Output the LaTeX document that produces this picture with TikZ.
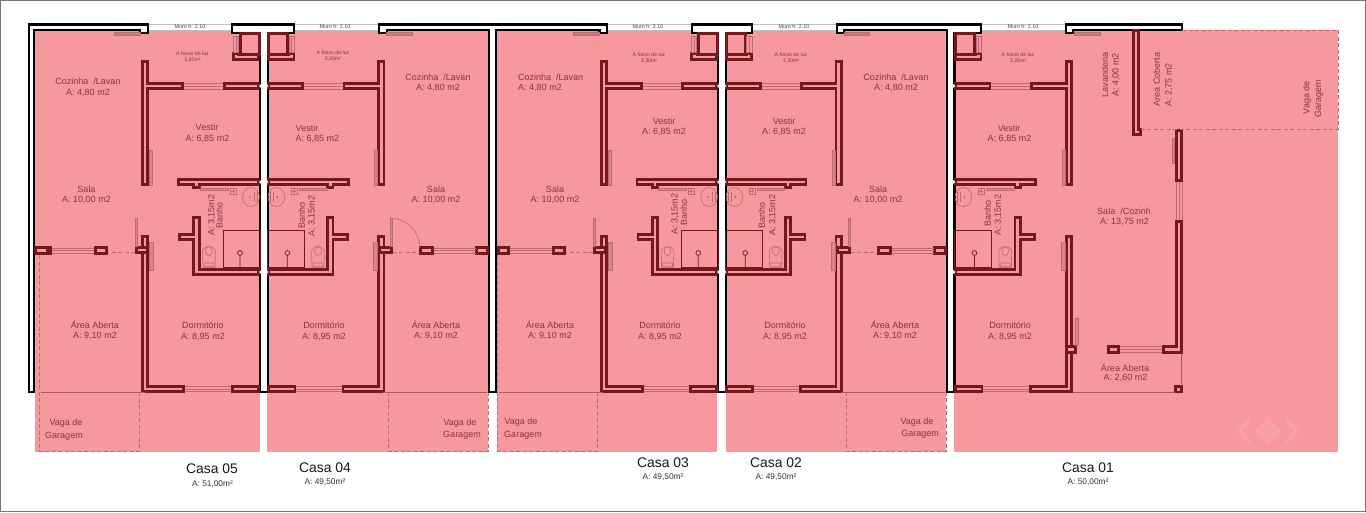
\documentclass[tikz,border=0pt]{standalone}
\usepackage{fontspec}
\setmainfont{Liberation Sans}
\usetikzlibrary{shapes}

\definecolor{planpink}{HTML}{F6989E}
\definecolor{wallred}{HTML}{741820}
\definecolor{labelred}{HTML}{8C3440}
\definecolor{thinred}{HTML}{BE6A72}

\tikzset{
  walldark/.style={draw=wallred,line width=8.2pt,line cap=rect,line join=miter},
  wallin/.style={draw=planpink,line width=2.6pt,line cap=rect,line join=miter},
  blackwall/.style={draw=black,fill=white,line width=2.3pt,line join=miter},
  thinline/.style={draw=wallred,line width=0.7pt},
  winline/.style={draw=thinred,line width=0.5pt},
  slab/.style={draw=thinred,fill=thinred!70!planpink,line width=0.3pt},
  fixture/.style={draw=thinred,line width=0.6pt},
  dashline/.style={draw=thinred,line width=0.6pt,dash pattern=on 4pt off 2.5pt},
  roomlabel/.style={inner sep=0pt,text=labelred,font=\fontsize{9}{10}\selectfont},
  fossolabel/.style={inner sep=0pt,text=labelred,font=\fontsize{5.2}{6}\selectfont},
  murolabel/.style={inner sep=0pt,text=black!75,font=\fontsize{5.4}{6}\selectfont},
  casalabel/.style={inner sep=0pt,text=black!90,font=\fontsize{13.9}{15}\selectfont},
  arealabel/.style={inner sep=0pt,text=black!80,font=\fontsize{8.3}{9}\selectfont},
}

\newcommand{\corewalls}{(115,64)--(115,182)
  (115,86)--(80,86) (4,86)--(33,86)
  (4,182)--(79,182) (63.5,182)--(63.5,185)
  (63.5,220)--(63.5,272)--(4,272) (63.5,237)--(78,237)
  (115,239)--(115,389)--(79,389) (4,389)--(25,389)
  (4,57)--(24,57) (24,57)--(24,56)}
\newcommand{\frontwalls}{(115,250)--(121,250) (156,250.5)--(162,250.5) (212,250.5)--(217,250.5)}

% the part of a house that repeats in all five
\newcommand{\casacore}[2]{%
\begin{scope}[shift={(#1,0)},xscale=#2]
\draw[walldark] \corewalls;
\draw[wallin] \corewalls;
\draw[draw=wallred,line width=3pt] (1,33.5) rectangle (20,54);
\draw[winline] (21.5,36) rectangle (27,52) (24,36)--(24,52);
\draw[winline] (37,83)--(76,83) (37,86)--(76,86) (37,89)--(76,89);
\draw[winline] (29,386.5)--(75,386.5) (29,389)--(75,389) (29,391.5)--(75,391.5);
\draw[slab] (120,32) rectangle (146,35);
\draw[slab,fill=thinred!45!planpink] (108,150) rectangle (111,185);
\draw[slab,fill=thinred!45!planpink] (107,242) rectangle (111,270);
\draw[slab,fill=thinred!45!planpink] (32,188) rectangle (60,190.5);
\draw[fixture] (24,188) rectangle (30,194) (27,189)--(27,193) (25,191)--(29,191);
\draw[fixture] (9,197) ellipse (8.5 and 9.5);
\draw[fixture] (3,192)--(3,202) (6,192)--(6,202);
\fill[wallred] (10,197) circle (0.7);
\draw[thinline] (0,230) rectangle (37,267.5);
\draw[thinline] (20,253) circle (2.4) (20,255.4)--(20,267.5);
\draw[fixture] (45,267)--(44.5,252) .. controls (44.5,245) and (57.5,245) .. (57.5,252) -- (57,267) -- cycle;
\draw[fixture] (51,251) ellipse (3.5 and 4.5) (46,263) rectangle (56,267);
\fill[white] (-1,86) circle (1.8) (-1,182) circle (1.8) (-1,272) circle (1.8);
\end{scope}}

% the open side, not in Casa 01
\newcommand{\casadash}[2]{%
\begin{scope}[shift={(#1,0)},xscale=#2]
\draw[dashline] (125,252)--(152,252);
\draw[dashline] (120.5,392)--(120.5,451)--(220.5,451)--(220.5,252)--(208,252);
\end{scope}}
\newcommand{\casafront}[2]{%
\begin{scope}[shift={(#1,0)},xscale=#2]
\draw[walldark] \frontwalls;
\draw[wallin] \frontwalls;
\draw[slab,fill=thinred!45!planpink] (123,218) rectangle (125,246);
\draw[winline] (166,248)--(208,248) (166,250.5)--(208,250.5) (166,253)--(208,253);
\draw[thinline,draw=thinred!80!wallred] (115,392)--(219,392);
\end{scope}}

\begin{document}
\begin{tikzpicture}[x=1pt,y=-1pt]
\useasboundingbox (0,0) rectangle (1366,512);
\draw[draw=black!55,fill=white,line width=1.5pt] (0.7,0.7) rectangle (1365.3,511.3);

% colour of the five lots
\fill[planpink] (35,30) rectangle (259.5,452);
\fill[planpink] (267,30) rectangle (488,452);
\fill[planpink] (497,30) rectangle (717,452);
\fill[planpink] (725.5,30) rectangle (946,452);
\fill[planpink] (954,30) rectangle (1338,452);

% dashed lots under the walls
\casadash{260}{-1}
\casadash{267.5}{1}
\casadash{718}{-1}
\casadash{725.5}{1}

% muro
\draw[draw=black!25,line width=0.8pt] (148,24) -- (232,24) (294,24) -- (379,24) (607,24) -- (692,24) (752,24) -- (837,24) (981,24) -- (1066,24);
\draw[draw=black!25,line width=0.6pt] (148,30) -- (232,30) (294,30) -- (379,30) (607,30) -- (692,30) (752,30) -- (837,30) (981,30) -- (1066,30);

% black outer line
\draw[blackwall] (29,392) -- (29,24.5) -- (148,24.5) -- (148,33) -- (140,33) -- (140,30) -- (34,30) -- (34,392) -- cycle;
\draw[blackwall] (232,24.5) -- (294,24.5) -- (294,33) -- (268,33) -- (268,392) -- (260,392) -- (260,33) -- (232,33) -- cycle;
\draw[blackwall] (379,33) -- (379,24.5) -- (607,24.5) -- (607,33) -- (599.5,33) -- (599.5,30) -- (496,30) -- (496,392) -- (489,392) -- (489,30) -- (387,30) -- (387,33) -- cycle;
\draw[blackwall] (692,24.5) -- (752,24.5) -- (752,33) -- (726,33) -- (726,392) -- (718,392) -- (718,33) -- (692,33) -- cycle;
\draw[blackwall] (837,33) -- (837,24.5) -- (981,24.5) -- (981,33) -- (954.5,33) -- (954.5,392) -- (947,392) -- (947,30) -- (844,30) -- (844,33) -- cycle;
\draw[blackwall] (1066,33) -- (1066,24.5) -- (1182,24.5) -- (1182,30) -- (1073,30) -- (1073,33) -- cycle;

\casacore{260}{-1}
\casacore{267.5}{0.99}
\casacore{718}{-0.99}
\casacore{725.5}{0.985}
\casacore{954.5}{0.995}
\casafront{260}{-1}
\casafront{267.5}{1}
\casafront{718}{-1}
\casafront{725.5}{1}

% Casa 05 reaches the outer wall
\draw[walldark] (38,250.5) -- (45,250.5);
\draw[wallin] (38,250.5) -- (45,250.5);

% door of Casa 04
\draw[fixture] (390,218) arc (-90:0:30);

% Casa 01, the part that is not repeated
\draw[walldark] (1136,33) -- (1136,132) -- (1137.5,132);
\draw[wallin] (1136,33) -- (1136,132) -- (1137.5,132);
\draw[walldark] (1179,133) -- (1179,178);
\draw[wallin] (1179,133) -- (1179,178);
\draw[walldark] (1179,224) -- (1179,349.5) -- (1166,349.5);
\draw[wallin] (1179,224) -- (1179,349.5) -- (1166,349.5);
\draw[walldark] (1111,349.5) -- (1116,349.5);
\draw[wallin] (1111,349.5) -- (1116,349.5);
\draw[walldark] (1069,349.5) -- (1073,349.5);
\draw[wallin] (1069,349.5) -- (1073,349.5);
\draw[draw=wallred,fill=planpink,line width=2.4pt] (1175.5,386.5) rectangle (1181.5,392);
\draw[winline] (1176,182) -- (1176,220) (1179,182) -- (1179,220) (1182,182) -- (1182,220);
\draw[winline] (1120,346.5) -- (1162,346.5) (1120,349.5) -- (1162,349.5) (1120,352) -- (1162,352);
\draw[slab,fill=thinred!45!planpink] (1075,318) rectangle (1078,345);
\draw[slab,fill=thinred!45!planpink] (1172,138) rectangle (1174.5,163);
\draw[thinline,draw=thinred!80!wallred] (1181,353) -- (1181,386);
\draw[thinline,draw=thinred!80!wallred] (1073,392) -- (1175,392);
\draw[dashline] (1182,30) -- (1338,30) -- (1338,129) -- (1141,129);

% mark in the corner
\draw[draw=planpink!92!white,line width=4pt,line join=round] (1250,419) -- (1239,431) -- (1250,443) (1286,419) -- (1297,431) -- (1286,443);
\fill[planpink!92!white] (1268,418) -- (1281,431) -- (1268,444) -- (1255,431) -- cycle;

% Muro
\node[murolabel] (muro5) at (190,27) {Muro h: 2.10};
\node[murolabel] (muro4) at (335,27) {Muro h: 2.10};
\node[murolabel] (muro3) at (648,27) {Muro h: 2.10};
\node[murolabel] (muro2) at (794,27) {Muro h: 2.10};
\node[murolabel] (muro1) at (1023,27) {Muro h: 2.10};

% Casa 05
\node[roomlabel] (coz5) at (88,81.7) {Cozinha\ \ /Lavan};
\node[roomlabel] (coz5a) at (88,92.5) {A: 4,80 m2};
\node[fossolabel] (fosso5) at (192.5,54) {A fosso de luz};
\node[fossolabel] (fosso5a) at (192.5,60.5) {3,30m²};
\node[roomlabel] (ves5) at (207,127.5) {Vestir};
\node[roomlabel] (ves5a) at (207.5,138.5) {A: 6,85 m2};
\node[roomlabel] (sala5) at (86.5,189.5) {Sala};
\node[roomlabel] (sala5a) at (86.5,200.3) {A: 10,00 m2};
\node[roomlabel,rotate=90] (ban5a) at (211.7,215) {A: 3,15m2};
\node[roomlabel,rotate=90] (ban5) at (219.3,215) {Banho};
\node[roomlabel] (are5) at (95,325) {Área Aberta};
\node[roomlabel] (are5a) at (95,336) {A: 9,10 m2};
\node[roomlabel] (dor5) at (203,325.5) {Dormitório};
\node[roomlabel] (dor5a) at (203,336.5) {A: 8,95 m2};
\node[roomlabel] (vag5) at (66,423) {Vaga de};
\node[roomlabel] (vag5a) at (64,436) {Garagem};
\node[casalabel] (casa5) at (212,469) {Casa 05};
\node[arealabel] (casa5a) at (212.5,484) {A: 51,00m²};

% Casa 04
\node[roomlabel] (coz4) at (438,77.7) {Cozinha\ \ /Lavan};
\node[roomlabel] (coz4a) at (438,88.3) {A: 4,80 m2};
\node[fossolabel] (fosso4) at (333,53) {A fosso de luz};
\node[fossolabel] (fosso4a) at (333,59.5) {3,30m²};
\node[roomlabel] (ves4) at (307,128.3) {Vestir};
\node[roomlabel] (ves4a) at (317.3,139) {A: 6,85 m2};
\node[roomlabel] (sala4) at (436,189.5) {Sala};
\node[roomlabel] (sala4a) at (436,200.3) {A: 10,00 m2};
\node[roomlabel,rotate=90] (ban4) at (301.7,215) {Banho};
\node[roomlabel,rotate=90] (ban4a) at (312,216) {A: 3,15m2};
\node[roomlabel] (are4) at (436,325) {Área Aberta};
\node[roomlabel] (are4a) at (436,336) {A: 9,10 m2};
\node[roomlabel] (dor4) at (324,325.5) {Dormitório};
\node[roomlabel] (dor4a) at (324,337) {A: 8,95 m2};
\node[roomlabel] (vag4) at (460,423) {Vaga de};
\node[roomlabel] (vag4a) at (462,435) {Garagem};
\node[casalabel] (casa4) at (325,468) {Casa 04};
\node[arealabel] (casa4a) at (325,482) {A: 49,50m²};

% Casa 03
\node[roomlabel] (coz3) at (550.7,77.7) {Cozinha\ \ /Lavan};
\node[roomlabel] (coz3a) at (540,88.3) {A: 4,80 m2};
\node[fossolabel] (fosso3) at (649,55) {A fosso de luz};
\node[fossolabel] (fosso3a) at (649,61.5) {3,30m²};
\node[roomlabel] (ves3) at (664,121.2) {Vestir};
\node[roomlabel] (ves3a) at (664,132) {A: 6,85 m2};
\node[roomlabel] (sala3) at (555,189.5) {Sala};
\node[roomlabel] (sala3a) at (555,200.3) {A: 10,00 m2};
\node[roomlabel,rotate=90] (ban3a) at (675,214) {A: 3,15m2};
\node[roomlabel,rotate=90] (ban3) at (684,212) {Banho};
\node[roomlabel] (are3) at (550,325) {Área Aberta};
\node[roomlabel] (are3a) at (550,336) {A: 9,10 m2};
\node[roomlabel] (dor3) at (660,325) {Dormitório};
\node[roomlabel] (dor3a) at (660,337) {A: 8,95 m2};
\node[roomlabel] (vag3) at (521,422) {Vaga de};
\node[roomlabel] (vag3a) at (523,435) {Garagem};
\node[casalabel] (casa3) at (663,463) {Casa 03};
\node[arealabel] (casa3a) at (663,477) {A: 49,50m²};

% Casa 02
\node[roomlabel] (coz2) at (896,77.7) {Cozinha\ \ /Lavan};
\node[roomlabel] (coz2a) at (896,88.3) {A: 4,80 m2};
\node[fossolabel] (fosso2) at (791,55) {A fosso de luz};
\node[fossolabel] (fosso2a) at (791,61.5) {3,30m²};
\node[roomlabel] (ves2) at (784,121.2) {Vestir};
\node[roomlabel] (ves2a) at (784,132) {A: 6,85 m2};
\node[roomlabel] (sala2) at (878,189.5) {Sala};
\node[roomlabel] (sala2a) at (878,200.3) {A: 10,00 m2};
\node[roomlabel,rotate=90] (ban2) at (761.7,215.7) {Banho};
\node[roomlabel,rotate=90] (ban2a) at (772.7,215) {A: 3,15m2};
\node[roomlabel] (are2) at (895,325) {Área Aberta};
\node[roomlabel] (are2a) at (895,336) {A: 9,10 m2};
\node[roomlabel] (dor2) at (785,325) {Dormitório};
\node[roomlabel] (dor2a) at (785,336.5) {A: 8,95 m2};
\node[roomlabel] (vag2) at (917,422) {Vaga de};
\node[roomlabel] (vag2a) at (920,434) {Garagem};
\node[casalabel] (casa2) at (776,463) {Casa 02};
\node[arealabel] (casa2a) at (776,477) {A: 49,50m²};

% Casa 01
\node[roomlabel,rotate=90] (lav1) at (1105,75) {Lavanderia};
\node[roomlabel,rotate=90] (lav1a) at (1116,75) {A: 4,00 m2};
\node[roomlabel,rotate=90] (cob1) at (1156.7,79.3) {Area Coberta};
\node[roomlabel,rotate=90] (cob1a) at (1169,85) {A: 2,75 m2};
\node[roomlabel,rotate=90] (vag1) at (1307,97.7) {Vaga de};
\node[roomlabel,rotate=90] (vag1a) at (1319,99) {Garagem};
\node[fossolabel] (fosso1) at (1018,55) {A fosso de luz};
\node[fossolabel] (fosso1a) at (1018,61) {3,26m²};
\node[roomlabel] (ves1) at (1009,128) {Vestir};
\node[roomlabel] (ves1a) at (1009.5,139) {A: 6,85 m2};
\node[roomlabel] (sala1) at (1124,211) {Sala\ \ /Cozinh};
\node[roomlabel] (sala1a) at (1124.5,222) {A: 13,75 m2};
\node[roomlabel,rotate=90] (ban1) at (987.7,213) {Banho};
\node[roomlabel,rotate=90] (ban1a) at (998.3,215) {A: 3,15m2};
\node[roomlabel] (dor1) at (1010,325.5) {Dormitório};
\node[roomlabel] (dor1a) at (1010,336.5) {A: 8,95 m2};
\node[roomlabel] (are1) at (1125,367.5) {Área Aberta};
\node[roomlabel] (are1a) at (1125.5,378) {A: 2,60 m2};
\node[casalabel] (casa1) at (1088,468) {Casa 01};
\node[arealabel] (casa1a) at (1088,482) {A: 50,00m²};
\end{tikzpicture}
\end{document}
